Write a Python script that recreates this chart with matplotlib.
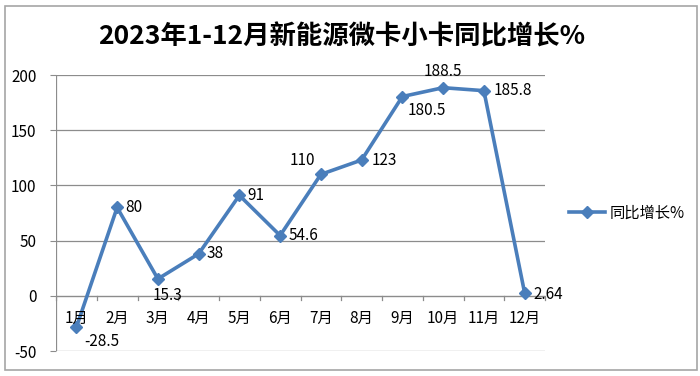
import matplotlib
matplotlib.use("Agg")
import matplotlib.pyplot as plt
from matplotlib.patches import Rectangle

plt.rcParams['font.family'] = ['Noto Sans CJK SC', 'DejaVu Sans']

months = ["1月", "2月", "3月", "4月", "5月", "6月", "7月", "8月", "9月", "10月", "11月", "12月"]
values = [-28.5, 80, 15.3, 38, 91, 54.6, 110, 123, 180.5, 188.5, 185.8, 2.64]
labels = ["-28.5", "80", "15.3", "38", "91", "54.6", "110", "123", "180.5", "188.5", "185.8", "2.64"]
yticks = [-50, 0, 50, 100, 150, 200]
series_name = "同比增长%"
title = "2023年1-12月新能源微卡小卡同比增长%"

# label offsets in points (dx, dy) and alignment
offsets = [(6, -10, 'left'), (6, 0, 'left'), (-4, -12, 'left'), (6, 0, 'left'),
           (6, 0, 'left'), (6, 0, 'left'), (-4, 10, 'right'), (7, 0, 'left'),
           (4, -10, 'left'), (0, 12, 'center'), (7, 0, 'left'), (6, -1, 'left')]

color = '#4A7EBB'
fig = plt.figure(figsize=(7, 3.76), dpi=100)
fig.patches.append(Rectangle((5/700, 6/376), 692/700, 364/376, transform=fig.transFigure,
                             fill=False, edgecolor='#A6A6A6', linewidth=1.2))

ax = fig.add_axes([56/700, 25/376, 489/700, 276/376])
x = list(range(len(months)))
ax.plot(x, values, color=color, linewidth=2.6, marker='D', markersize=6.5, zorder=3,
        label=series_name)
ax.set_xlim(-0.5, len(months) - 0.5)
ax.set_ylim(-50, 200)
ax.set_yticks(yticks)
ax.set_yticklabels([str(t) for t in yticks], fontsize=11)
for t in yticks:
    if t != 0:
        ax.axhline(t, color='#8C8C8C', linewidth=0.9, zorder=1)
ax.axhline(0, color='#8C8C8C', linewidth=1.0, zorder=1)
ax.axvline(-0.5, color='#8C8C8C', linewidth=0.9, zorder=1)
for s in ax.spines.values():
    s.set_visible(False)
ax.tick_params(axis='y', length=4, color='#8C8C8C', pad=10)
ax.tick_params(axis='x', length=0)
ax.set_xticks([])
# category tick marks below the 0 line
for i in range(len(months) + 1):
    ax.plot([i - 0.5, i - 0.5], [0, -4], color='#8C8C8C', linewidth=0.9, zorder=1,
            clip_on=False)
for i, m in enumerate(months):
    ax.annotate(m, (i, 0), xytext=(0, -16), textcoords='offset points',
                ha='center', va='center', fontsize=11)

for i, (v, lab) in enumerate(zip(values, labels)):
    dx, dy, ha = offsets[i]
    ax.annotate(lab, (i, v), xytext=(dx, dy), textcoords='offset points',
                ha=ha, va='center', fontsize=11)

leg = fig.legend(loc='center left', bbox_to_anchor=(555/700, 1 - 213/376), frameon=False,
                 fontsize=11, handlelength=2.4, handletextpad=0.3)

fig.text(342/700, 1 - 37/376, title, ha='center', va='center', fontsize=19,
         fontweight='bold')

fig.savefig("out.png", dpi=100)
